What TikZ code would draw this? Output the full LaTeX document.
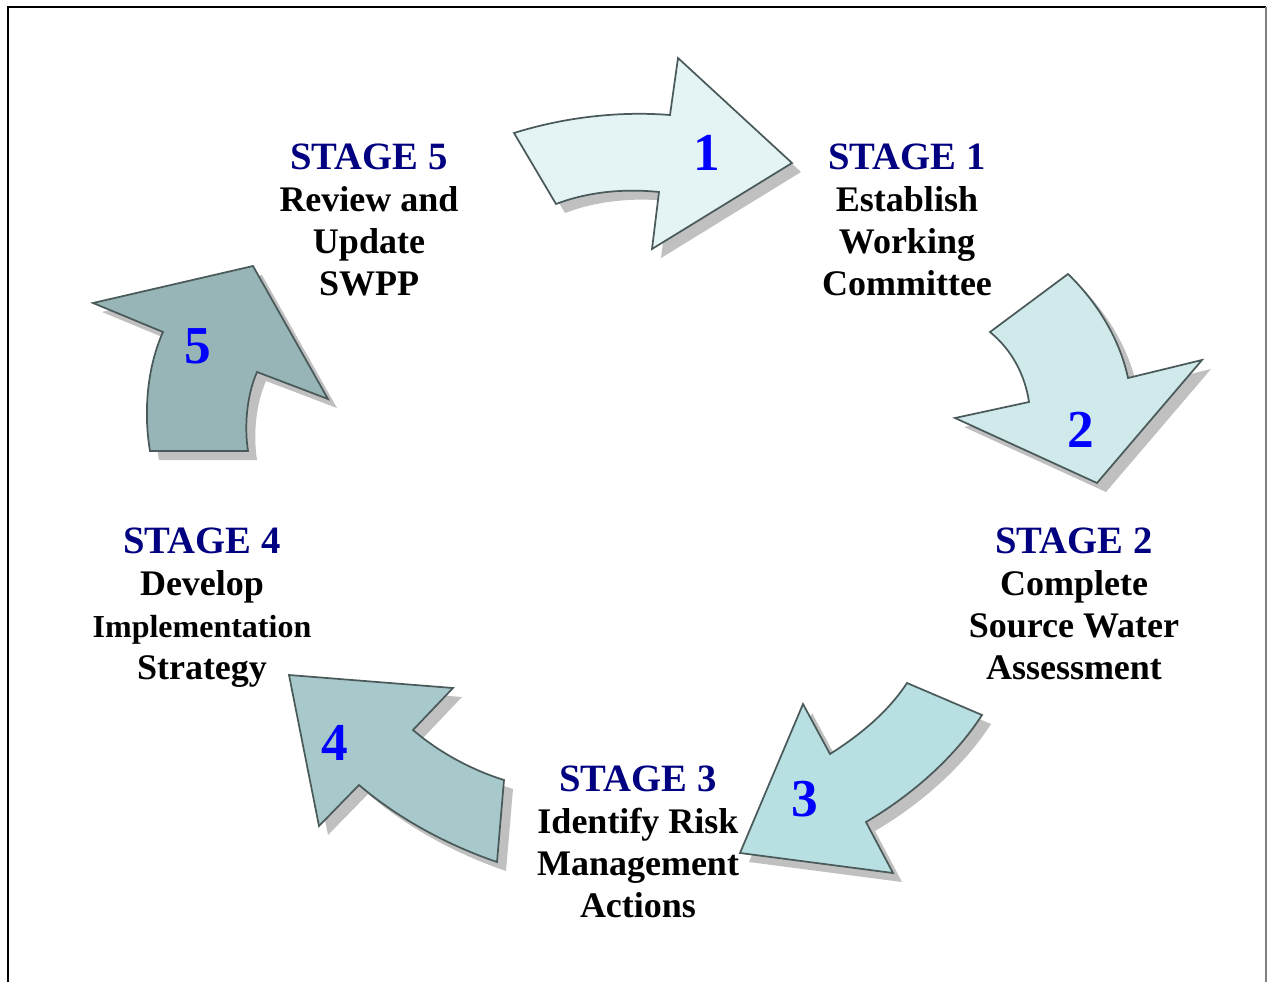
\documentclass[tikz,border=0pt]{standalone}
\usepackage{fontspec}
\setmainfont{Liberation Serif}
\definecolor{navy}{HTML}{000080}
\definecolor{digit}{HTML}{0000FF}
\definecolor{edge}{HTML}{4A5A5A}
\definecolor{shade}{HTML}{C0C0C0}
\definecolor{fa}{HTML}{E4F3F3}
\definecolor{fb}{HTML}{D0E9EA}
\definecolor{fc}{HTML}{B8DFE2}
\definecolor{fd}{HTML}{A8C9CB}
\definecolor{fe}{HTML}{97B4B6}
\newcommand{\stg}[1]{{\fontsize{29}{31.5}\selectfont\textcolor{navy}{#1}}}
\tikzset{
  arrowbody/.style={draw=edge, line width=1.3pt, line join=miter},
  arrowshadow/.style={fill=shade, draw=none, shift={(9,9)}},
  stagetext/.style={align=center, font=\fontsize{27}{31.5}\selectfont\bfseries, inner sep=0pt},
  digitlabel/.style={text=digit, font=\fontsize{40}{40}\selectfont\bfseries, inner sep=0pt},
}
\begin{document}
\begin{tikzpicture}[x=0.75pt,y=-0.75pt]
\useasboundingbox (0,0) rectangle (1267,982);
\fill[white] (0,0) rectangle (1267,982);
% frame
\draw[black, line width=2.2pt] (8,982) -- (8,7) -- (1266,7);
\draw[gray, line width=1.2pt] (1266,7) -- (1266,982);

% arrow paths
\def\arrA{(514,133) .. controls (565,117) and (620,111) .. (670,115) -- (678,58) -- (792,163) -- (652,249) -- (659,192) .. controls (620,188) and (585,193) .. (556,204) -- cycle}
\def\arrB{(1068,274) .. controls (1098,303) and (1120,340) .. (1128,378) -- (1202,360) -- (1097,483) -- (955,418) -- (1029,402) .. controls (1025,375) and (1012,350) .. (990,332) -- cycle}
\def\arrC{(907,683) -- (982,715) .. controls (955,757) and (912,795) .. (866,822) -- (893,873) -- (740,853) -- (803,704) -- (830,754) .. controls (860,735) and (888,712) .. (907,683) -- cycle}
\def\arrD{(289,675) -- (453,688) -- (413,730) .. controls (440,753) and (472,770) .. (504,780) -- (497,862) .. controls (450,846) and (400,820) .. (359,785) -- (319,826) -- cycle}
\def\arrE{(253,266) -- (328,399) -- (257,372) .. controls (247,395) and (244,425) .. (248,451) -- (150,451) .. controls (143,410) and (148,365) .. (163,332) -- (93,303) -- cycle}

\fill[arrowshadow] \arrA;
\fill[arrowshadow] \arrB;
\fill[arrowshadow] \arrC;
\fill[arrowshadow] \arrD;
\fill[arrowshadow] \arrE;
\path[arrowbody, fill=fa] \arrA;
\path[arrowbody, fill=fb] \arrB;
\path[arrowbody, fill=fc] \arrC;
\path[arrowbody, fill=fd] \arrD;
\path[arrowbody, fill=fe] \arrE;

% digits
\node[digitlabel] (d1) at (707,153) {1};
\node[digitlabel] (d2) at (1081,430) {2};
\node[digitlabel] (d3) at (805,799) {3};
\node[digitlabel] (d4) at (335,743) {4};
\node[digitlabel] (d5) at (198,346) {5};

% stage texts
\node[stagetext] (s1) at (907,220) {\stg{STAGE 1}\\Establish\\Working\\Committee};
\node[stagetext] (s2) at (1074,604) {\stg{STAGE 2}\\Complete\\Source Water\\Assessment};
\node[stagetext] (s3) at (638,842) {\stg{STAGE 3}\\Identify Risk\\Management\\Actions};
\node[stagetext] (s4) at (202,608) {\stg{STAGE 4}\\Develop\\{\fontsize{24}{28}\selectfont Implementation}\\Strategy};
\node[stagetext] (s5) at (369,220) {\stg{STAGE 5}\\Review and\\Update\\SWPP};
\end{tikzpicture}
\end{document}
